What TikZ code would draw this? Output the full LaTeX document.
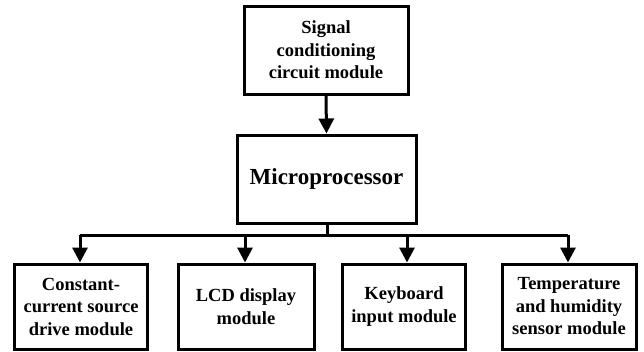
\documentclass[tikz,border=0pt]{standalone}
\usepackage{fontspec}
\setmainfont{Liberation Serif}
\usetikzlibrary{arrows.meta}
\begin{document}
\begin{tikzpicture}[x=1pt,y=-1pt,
  box/.style={draw=black,line width=3pt,inner sep=0pt,align=center,
    font=\bfseries\fontsize{18.5}{22.5}\selectfont},
  conn/.style={line width=3pt,black},
  arr/.style={conn,-{Triangle[width=15pt,length=15pt]}}]
\useasboundingbox (0,0) rectangle (644,351);
\node[box,minimum width=164pt,minimum height=88pt] (sig) at (326,50)
  {Signal\\conditioning\\circuit module};
\node[box,minimum width=179pt,minimum height=88pt,font=\bfseries\fontsize{23}{27}\selectfont] (mcu) at (326.5,179)
  {Microprocessor};
\node[box,minimum width=133pt,minimum height=85pt] (b1) at (81,306.5)
  {Constant-\\current source\\drive module};
\node[box,minimum width=136pt,minimum height=85pt] (b2) at (246,306.5)
  {LCD display\\module};
\node[box,minimum width=123pt,minimum height=85pt] (b3) at (404,306.5)
  {Keyboard\\input module};
\node[box,minimum width=134pt,minimum height=85pt] (b4) at (569,306.5)
  {Temperature\\and humidity\\sensor module};
\coordinate (bus) at (327,235);
\draw[arr] (sig.south) -- (mcu.north);
\draw[conn] (mcu.south -| bus) -- (bus);
\draw[conn] (80,235) -- (568,235);
\draw[arr] (80,235) -- (b1.north -| 80,0);
\draw[arr] (245,235) -- (b2.north -| 245,0);
\draw[arr] (407,235) -- (b3.north -| 407,0);
\draw[arr] (568,235) -- (b4.north -| 568,0);
\end{tikzpicture}
\end{document}
